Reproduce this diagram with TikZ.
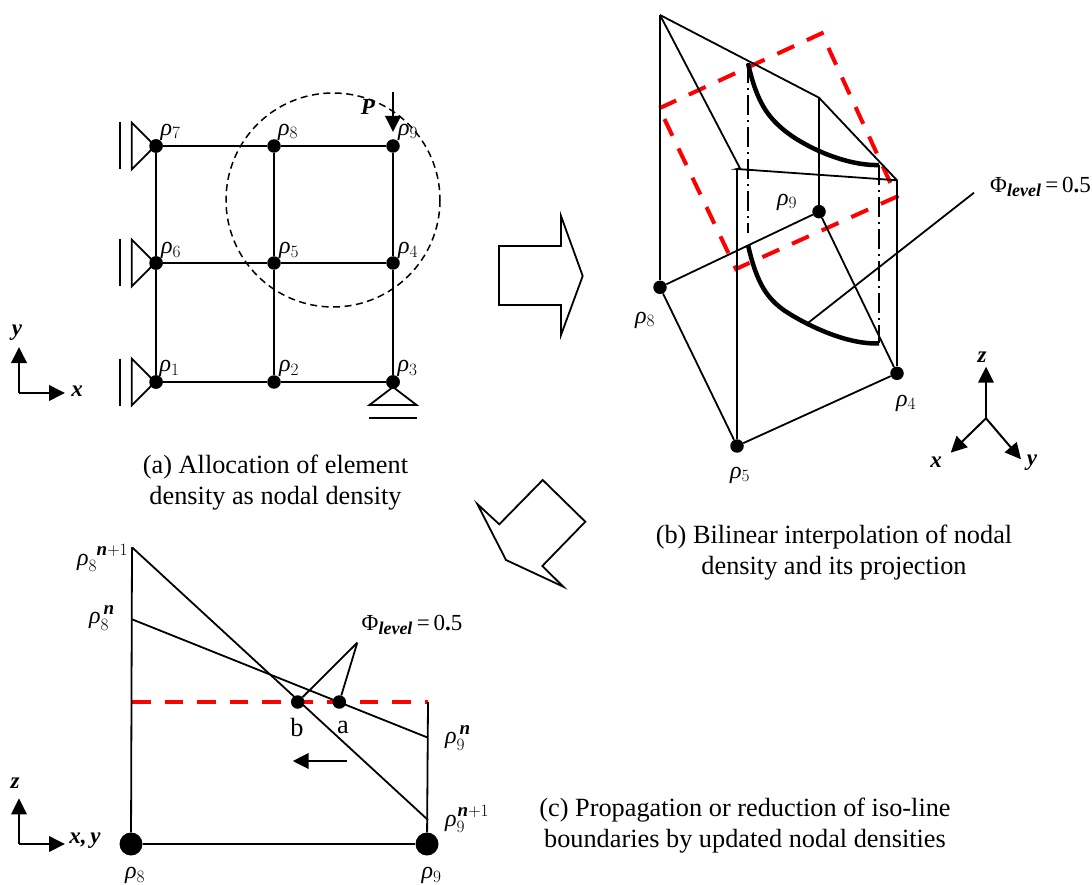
\documentclass[tikz,border=0pt]{standalone}
\usepackage{amsmath}
\usepackage{fontspec}
\setmainfont{Liberation Serif}
\usepackage{xcolor}
\usetikzlibrary{arrows.meta, positioning, calc}
\definecolor{redline}{HTML}{FF0000}
\DeclareMathSizes{24}{24}{19}{14}
\DeclareMathSizes{23}{23}{18}{14}
\newcommand{\rhos}[1]{\textit{ρ}$_{#1}$}
\newcommand{\rhoss}[3]{\textit{ρ}$_{#1}^{\kern#3pt\text{\bfseries\itshape n}{#2}}$}
\newcommand{\plussm}{\fontsize{13}{13}\selectfont +1}
\newcommand{\plusbg}{\fontsize{15}{15}\selectfont +1}
\newcommand{\philevel}{Φ$_{\text{\bfseries\itshape level}}$\,=\,0{\bfseries.}5}
\tikzset{
  lab/.style={inner sep=0pt, font=\fontsize{24}{31}\selectfont},
  phil/.style={inner sep=0pt, font=\fontsize{23}{31}\selectfont},
  caplab/.style={inner sep=0pt, align=center, font=\fontsize{26.3}{31}\selectfont},
  axlab/.style={inner sep=0pt, font=\fontsize{23}{28}\selectfont\bfseries\itshape},
  thinl/.style={draw=black, line width=1.8pt},
  axarr/.style={draw=black, line width=2pt, -{Triangle[length=16pt, width=15.5pt]}},
  dotn/.style={circle, fill=black, inner sep=0pt, minimum size=13.5pt},
  bigdot/.style={circle, fill=black, inner sep=0pt, minimum size=23pt},
  redd/.style={draw=redline, line width=4pt, dash pattern=on 18.5pt off 14pt},
  curv/.style={draw=black, line width=4.5pt},
  dashdot/.style={draw=black, line width=1.1pt, dash pattern=on 20pt off 5pt on 2pt off 5pt},
  support/.style={draw=black, line width=1.8pt, fill=white},
}
\begin{document}
\begin{tikzpicture}[x=1pt, y=-1pt]
  \useasboundingbox (0,0) rectangle (1092,885);

  % (a) nodal grid
  \draw[draw=black, line width=1.5pt, dash pattern=on 7pt off 4.5pt] (333,200) circle (107);
  \foreach \nam/\xx/\yy in {n7/156/146, n8/274/146, n9/393/146,
      n6/156/263, n5/274/263, n4/393/263,
      n1/156/382, n2/274/382, n3/393/382}
    \node[dotn] (\nam) at (\xx,\yy) {};
  \draw[thinl] (n7) -- (n8);
  \draw[thinl] (n8) -- (n9);
  \draw[thinl] (n6) -- (n5);
  \draw[thinl] (n5) -- (n4);
  \draw[thinl] (n1) -- (n2);
  \draw[thinl] (n2) -- (n3);
  \draw[thinl] (n7) -- (n6);
  \draw[thinl] (n6) -- (n1);
  \draw[thinl] (n8) -- (n5);
  \draw[thinl] (n5) -- (n2);
  \draw[thinl] (n9) -- (n4);
  \draw[thinl] (n4) -- (n3);
  \foreach \nam/\num/\xx/\yy in {l7/7/170.5/132, l8/8/288/132, l9/9/408/132,
      l6/6/171/250.5, l5/5/289/250.5, l4/4/408/250.5,
      l1/1/169.5/368.5, l2/2/289/368.5, l3/3/407.5/368.5}
    \node[lab] (\nam) at (\xx,\yy) {\rhos{\num}};

  % supports
  \foreach \yy in {146,263,382} {
    \draw[support] (131.7,\yy-23.5) -- (152,\yy-3) -- (152,\yy+3) -- (131.7,\yy+23.5) -- cycle;
    \draw[thinl] (120,\yy-23.5) -- (120,\yy+23.5);
  }
  \draw[support] (393,387) -- (369.5,405) -- (416.5,405) -- cycle;
  \draw[thinl] (369,418) -- (417,418);
  \node[dotn] at (156,146) {};
  \node[dotn] at (156,263) {};
  \node[dotn] at (156,382) {};
  \node[dotn] at (393,382) {};

  % load
  \coordinate (ptop) at (393,92);
  \coordinate (ptip) at (393,132);
  \draw[axarr] (ptop) -- (ptip);
  \node[axlab] (pl) at (368,107) {P};

  % axes of (a)
  \coordinate (oa) at (19,393);
  \coordinate (oay) at (19,347);
  \coordinate (oax) at (65,393);
  \draw[axarr] (oa) -- (oay);
  \draw[axarr] (oa) -- (oax);
  \node[axlab] (ya) at (17,333) {y};
  \node[axlab] (xa) at (77,391) {x};

  \node[caplab] (capa) at (275.5,483) {(a) Allocation of element\\density as nodal density};

  % block arrows
  \draw[thinl] (499,246) -- (561,246) -- (561,216) -- (582.7,276) -- (561,335)
    -- (561,305) -- (499,305) -- cycle;
  \draw[thinl] (542.7,480) -- (585.3,521.7) -- (542.3,566) -- (563.3,586.7) -- (506,560)
    -- (477.3,504) -- (499.3,524.3) -- cycle;

  % (b) surface
  \coordinate (tl) at (660,15);
  \coordinate (tm) at (819,97.7);
  \coordinate (tb) at (740,168.3);
  \coordinate (tc) at (737,169);
  \coordinate (tr) at (897,180.3);
  \node[dotn] (b8) at (660,287.3) {};
  \node[dotn] (b9) at (819,211.7) {};
  \node[dotn] (b5) at (737,446) {};
  \node[dotn] (b4) at (897,373.3) {};
  \draw[redd] (659.3,108.3) -- (821.7,33.3) -- (896.7,196.7) -- (736,269) -- cycle;
  \draw[thinl] (tl) -- (b8);
  \draw[thinl] (tl) -- (tb) -- (tc) -- (tr);
  \draw[thinl] (tl) -- (tm) -- (tr);
  \draw[thinl] (tm) -- (b9);
  \draw[thinl] (tc) -- (b5);
  \draw[thinl] (tr) -- (b4);
  \draw[thinl] (b8) -- (b9);
  \draw[thinl] (b8) -- (b5);
  \draw[thinl] (b5) -- (b4);
  \draw[thinl] (b9) -- (b4);
  \coordinate (cu1) at (748,63.3);
  \coordinate (cu2) at (879,165);
  \coordinate (cl1) at (748,245);
  \coordinate (cl2) at (879,343.3);
  \coordinate (clm) at (808.3,322.7);
  \coordinate (phib) at (974,192.7);
  \draw[dashdot] (cu1) -- (748,233);
  \draw[dashdot] (cu2) -- (cl2);
  \draw[curv] (cu1) .. controls (757,103) and (768,117) .. (785,131)
    .. controls (808,149) and (848,166) .. (cu2);
  \draw[curv] (cl1) .. controls (757,285) and (768,299) .. (785,311)
    .. controls (808,326) and (848,345) .. (cl2);
  \draw[thinl] (clm) -- (phib);
  \node[phil, anchor=west] (phibl) at (990,187) {\philevel};
  \node[lab] (lb9) at (787,202) {\rhos{9}};
  \node[lab] (lb8) at (645,320) {\rhos{8}};
  \node[lab] (lb4) at (906,403) {\rhos{4}};
  \node[lab] (lb5) at (740,475) {\rhos{5}};

  % axes of (b)
  \coordinate (ob) at (986,418.3);
  \coordinate (obz) at (986,366.7);
  \coordinate (obx) at (950.7,452.7);
  \coordinate (oby) at (1021,459.3);
  \draw[axarr] (ob) -- (obz);
  \draw[axarr] (ob) -- (obx);
  \draw[axarr] (ob) -- (oby);
  \node[axlab] (zb) at (982,357) {z};
  \node[axlab] (xb) at (936,462) {x};
  \node[axlab] (yb) at (1032,463) {y};

  \node[caplab] (capb) at (834,553) {(b) Bilinear interpolation of nodal\\density and its projection};

  % (c) section
  \node[bigdot] (c8) at (131,844) {};
  \node[bigdot] (c9) at (427,844) {};
  \coordinate (c8t) at (132,547.3);
  \coordinate (c8n) at (132,619.3);
  \coordinate (c8r) at (132,702);
  \coordinate (c9r) at (428,702);
  \coordinate (c9n) at (428,737.7);
  \coordinate (c9t) at (428,820);
  \draw[redd] (c8r) -- (c9r);
  \draw[thinl] (c8t) -- (c8);
  \draw[thinl] (c9r) -- (c9);
  \draw[thinl] (c8) -- (c9);
  \draw[thinl] (c8t) -- (c9t);
  \draw[thinl] (c8n) -- (c9n);
  \node[dotn] (pb) at (297.7,702) {};
  \node[dotn] (pa) at (339.3,702) {};
  \coordinate (apx) at (357.3,642.7);
  \draw[thinl] (apx) -- (pb);
  \draw[thinl] (apx) -- (pa);
  \node[phil, anchor=west] (phic) at (361.5,625) {\philevel};
  \node[caplab] (lbb) at (297,727) {b};
  \node[caplab] (lba) at (343,727) {a};
  \coordinate (mvs) at (346.7,761);
  \coordinate (mve) at (292.7,761);
  \draw[axarr] (mvs) -- (mve);
  \node[lab, anchor=west] (l8t) at (77,558) {\rhoss{8}{\plussm}{8}};
  \node[lab, anchor=west] (l8n) at (89,618) {\rhoss{8}{}{3}};
  \node[lab, anchor=west] (l9n) at (445,738) {\rhoss{9}{}{3}};
  \node[lab, anchor=west] (l9t) at (445,819) {\rhoss{9}{\plusbg}{1}};
  \node[lab] (lc8) at (135,875.5) {\rhos{8}};
  \node[lab] (lc9) at (431.5,875.5) {\rhos{9}};

  % axes of (c)
  \coordinate (oc) at (19,844);
  \coordinate (ocz) at (19,798.3);
  \coordinate (ocx) at (65,844);
  \draw[axarr] (oc) -- (ocz);
  \draw[axarr] (oc) -- (ocx);
  \node[axlab] (zc) at (15,783) {z};
  \node[axlab] (xc) at (85,841) {x,\,y};

  \node[caplab] (capc) at (745,826) {(c) Propagation or reduction of iso-line\\boundaries by updated nodal densities};
\end{tikzpicture}
\end{document}
